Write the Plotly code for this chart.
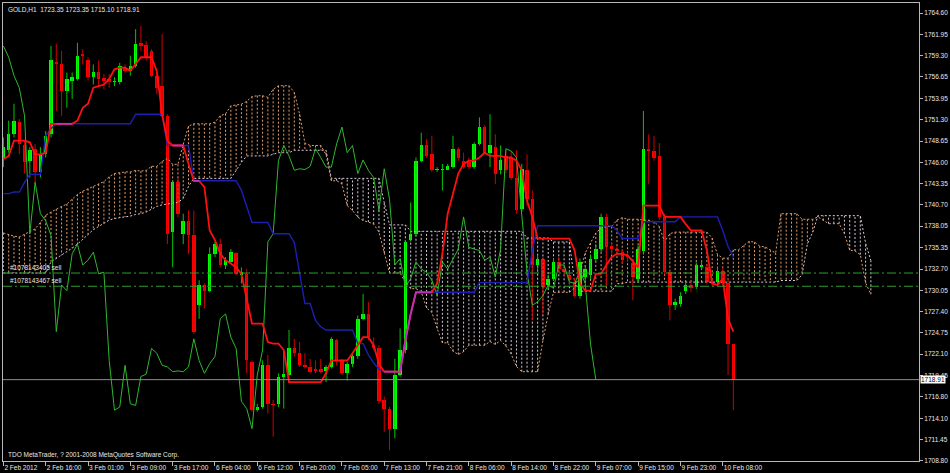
import plotly.graph_objects as go

# ---------------- data ----------------
time_labels = ["2 Feb 2012", "2 Feb 16:00", "3 Feb 01:00", "3 Feb 09:00", "3 Feb 17:00",
               "6 Feb 04:00", "6 Feb 12:00", "6 Feb 20:00", "7 Feb 05:00", "7 Feb 13:00",
               "7 Feb 21:00", "8 Feb 06:00", "8 Feb 14:00", "8 Feb 22:00", "9 Feb 07:00",
               "9 Feb 15:00", "9 Feb 23:00", "10 Feb 08:00"]
label_bars = [0, 8, 16, 24, 32, 40, 48, 56, 64, 72, 80, 88, 96, 104, 112, 120, 128, 136]

opens = [1746.4, 1747.5, 1749.5, 1751.0, 1748.1, 1746.2, 1747.7, 1744.8, 1747.0, 1749.5,
         1758.5, 1758.3, 1754.9, 1756.2, 1756.4, 1759.5, 1758.7, 1756.6, 1757.2, 1756.5,
         1756.4, 1756.0, 1756.0, 1757.8, 1757.4, 1758.0, 1760.9, 1760.6, 1759.9, 1756.8,
         1755.5, 1751.8, 1737.3, 1743.5, 1737.1, 1738.7, 1736.9, 1728.2, 1730.7, 1730.0,
         1734.6, 1735.8, 1733.2, 1733.6, 1734.7, 1731.9, 1732.1, 1721.1, 1715.1, 1715.5,
         1720.7, 1715.9, 1715.9, 1719.3, 1719.5, 1722.8, 1722.2, 1720.7, 1720.5, 1720.2,
         1720.3, 1720.0, 1720.5, 1723.8, 1721.3, 1719.7, 1720.9, 1721.8, 1726.5, 1727.1,
         1723.2, 1722.8, 1716.4, 1715.3, 1712.8, 1719.5, 1722.6, 1736.3, 1737.1, 1746.2,
         1748.1, 1747.0, 1745.0, 1745.0, 1745.1, 1745.4, 1747.7, 1746.2, 1746.0, 1745.4,
         1748.3, 1750.4, 1747.2, 1747.9, 1745.0, 1746.8, 1746.6, 1744.1, 1740.2, 1745.0,
         1741.4, 1733.2, 1734.0, 1730.7, 1731.5, 1733.6, 1732.7, 1731.9, 1731.1, 1729.4,
         1731.7, 1731.9, 1734.0, 1735.2, 1739.2, 1735.6, 1735.2, 1734.8, 1734.4, 1733.4,
         1731.5, 1735.0, 1747.7, 1747.4, 1746.8, 1739.2, 1732.3, 1728.2, 1728.4, 1730.0,
         1730.7, 1730.5, 1733.0, 1733.0, 1731.1, 1731.1, 1732.5, 1730.9, 1723.35]
highs = [1749.1, 1751.2, 1753.3, 1751.4, 1748.7, 1747.9, 1748.3, 1747.9, 1749.9, 1760.5,
         1760.8, 1759.9, 1757.2, 1757.2, 1760.9, 1760.1, 1759.1, 1758.2, 1758.7, 1757.0,
         1757.0, 1756.6, 1758.4, 1758.2, 1759.3, 1762.6, 1763.0, 1761.1, 1760.1, 1757.0,
         1762.0, 1752.0, 1743.7, 1744.1, 1739.6, 1740.0, 1740.0, 1731.3, 1730.9, 1735.4,
         1736.1, 1736.5, 1734.2, 1735.2, 1734.8, 1732.9, 1732.7, 1721.3, 1715.9, 1721.3,
         1722.0, 1716.4, 1719.7, 1722.6, 1725.1, 1724.0, 1723.6, 1722.2, 1721.5, 1721.3,
         1721.5, 1720.7, 1724.2, 1724.0, 1721.5, 1721.1, 1722.2, 1726.9, 1729.6, 1728.6,
         1724.2, 1723.2, 1716.8, 1715.5, 1721.5, 1725.3, 1736.3, 1741.0, 1746.6, 1749.7,
         1748.9, 1749.3, 1745.4, 1745.8, 1745.8, 1749.3, 1747.9, 1747.2, 1746.6, 1748.5,
         1751.6, 1750.6, 1752.0, 1749.5, 1748.1, 1747.5, 1747.3, 1747.5, 1745.8, 1747.0,
         1742.5, 1734.5, 1734.2, 1732.0, 1734.0, 1734.2, 1733.0, 1732.4, 1731.6, 1734.0,
         1733.2, 1734.5, 1735.8, 1739.6, 1739.6, 1736.0, 1735.6, 1735.2, 1734.8, 1733.8,
         1735.6, 1752.4, 1749.5, 1749.3, 1748.4, 1739.6, 1732.6, 1729.0, 1729.8, 1731.0,
         1731.2, 1733.5, 1733.8, 1733.3, 1731.4, 1732.9, 1732.9, 1731.5, 1723.35]
lows = [1745.4, 1747.2, 1749.1, 1747.0, 1744.6, 1744.1, 1743.3, 1744.1, 1746.6, 1749.1,
        1752.4, 1751.8, 1752.8, 1753.9, 1756.2, 1758.2, 1756.2, 1755.7, 1755.5, 1755.1,
        1755.3, 1755.5, 1755.7, 1757.2, 1756.8, 1757.8, 1759.9, 1758.7, 1756.6, 1754.5,
        1751.6, 1735.8, 1732.9, 1739.2, 1735.8, 1734.6, 1724.6, 1726.5, 1727.8, 1729.8,
        1734.2, 1732.9, 1732.7, 1733.4, 1731.9, 1730.9, 1719.7, 1714.9, 1714.9, 1715.3,
        1714.7, 1711.8, 1715.5, 1715.3, 1719.3, 1721.8, 1720.5, 1720.3, 1719.7, 1719.7,
        1719.7, 1718.6, 1720.3, 1720.7, 1719.5, 1718.8, 1720.5, 1721.5, 1726.3, 1723.8,
        1722.6, 1715.9, 1712.4, 1710.1, 1711.6, 1719.3, 1722.2, 1736.1, 1736.9, 1746.0,
        1746.6, 1744.8, 1744.8, 1742.5, 1745.0, 1745.2, 1746.2, 1745.2, 1745.2, 1745.2,
        1748.1, 1747.0, 1745.4, 1743.3, 1744.5, 1744.6, 1743.8, 1739.6, 1739.8, 1740.5,
        1726.3, 1732.5, 1727.0, 1730.2, 1731.2, 1732.3, 1731.8, 1730.8, 1729.2, 1729.0,
        1731.2, 1731.5, 1733.6, 1734.8, 1730.5, 1734.6, 1734.5, 1733.4, 1733.6, 1728.8,
        1731.0, 1734.5, 1743.3, 1746.2, 1738.8, 1732.0, 1726.3, 1727.6, 1728.0, 1729.6,
        1729.8, 1730.2, 1732.6, 1730.8, 1730.5, 1730.8, 1730.5, 1719.5, 1715.10]
closes = [1747.9, 1749.5, 1751.2, 1748.3, 1746.0, 1747.5, 1744.8, 1747.0, 1749.3, 1758.7,
          1758.3, 1754.9, 1756.4, 1756.6, 1759.3, 1759.3, 1756.6, 1757.2, 1756.4, 1756.2,
          1756.0, 1756.2, 1758.0, 1757.4, 1758.0, 1760.7, 1760.5, 1759.1, 1756.8, 1755.3,
          1751.8, 1737.1, 1743.5, 1739.6, 1738.7, 1736.9, 1724.9, 1730.7, 1730.0, 1734.6,
          1735.8, 1733.2, 1733.8, 1734.8, 1732.1, 1732.3, 1721.3, 1715.1, 1715.5, 1720.7,
          1715.9, 1715.7, 1719.3, 1719.6, 1722.8, 1722.2, 1720.7, 1720.5, 1719.9, 1720.0,
          1719.9, 1720.5, 1724.0, 1721.3, 1719.7, 1720.9, 1721.8, 1726.5, 1727.1, 1724.2,
          1722.8, 1716.2, 1715.3, 1712.8, 1719.5, 1722.6, 1736.1, 1737.1, 1746.2, 1748.1,
          1746.8, 1745.0, 1745.2, 1745.1, 1745.5, 1747.7, 1746.6, 1745.4, 1745.4, 1748.3,
          1750.4, 1747.2, 1748.1, 1744.6, 1746.3, 1745.0, 1744.1, 1740.0, 1745.2, 1741.4,
          1733.2, 1734.0, 1730.5, 1731.5, 1733.6, 1732.7, 1732.3, 1731.3, 1729.4, 1733.6,
          1732.7, 1734.0, 1735.2, 1739.2, 1735.4, 1735.2, 1735.0, 1733.8, 1734.2, 1731.7,
          1735.2, 1747.7, 1747.4, 1746.6, 1739.2, 1732.3, 1728.2, 1728.6, 1729.4, 1730.7,
          1730.3, 1733.2, 1733.2, 1731.1, 1730.9, 1732.5, 1730.9, 1723.35, 1718.91]

tenkan = [1746.4, 1746.8, 1748.7, 1748.7, 1748.7, 1748.5, 1747.0, 1747.0, 1747.2, 1750.8,
          1750.8, 1750.8, 1750.8, 1750.8, 1751.2, 1752.8, 1753.3, 1755.3, 1755.5, 1755.7,
          1756.4, 1757.6, 1757.8, 1757.8, 1757.4, 1758.2, 1759.1, 1759.1, 1759.1, 1757.4,
          1752.0, 1748.7, 1748.1, 1748.1, 1748.1, 1745.8, 1743.7, 1743.7, 1742.9, 1737.5,
          1736.3, 1734.6, 1733.8, 1733.4, 1732.9, 1732.1, 1729.0, 1725.9, 1725.9, 1725.9,
          1723.6, 1723.4, 1723.4, 1722.6, 1718.6, 1718.6, 1718.6, 1718.6, 1718.6, 1718.6,
          1718.6, 1719.7, 1721.3, 1721.3, 1721.3, 1721.3, 1722.2, 1723.2, 1724.2, 1724.2,
          1723.2, 1720.9, 1719.9, 1719.9, 1719.9, 1719.9, 1723.8, 1727.1, 1729.8, 1729.8,
          1729.8, 1729.8, 1730.9, 1734.6, 1739.6, 1742.1, 1744.6, 1745.8, 1746.2, 1746.2,
          1746.6, 1747.2, 1746.8, 1746.8, 1746.8, 1746.6, 1746.6, 1746.2, 1745.0, 1741.2,
          1739.2, 1736.5, 1736.5, 1736.5, 1736.5, 1736.5, 1736.5, 1736.5, 1735.0, 1730.9,
          1730.0, 1730.0, 1732.1, 1732.1, 1733.2, 1734.2, 1734.6, 1734.6, 1734.4, 1733.6,
          1732.9, 1740.6, 1740.6, 1740.6, 1740.6, 1739.2, 1739.2, 1739.2, 1739.2, 1738.3,
          1737.5, 1737.5, 1737.5, 1735.0, 1730.9, 1730.7, 1731.5, 1726.5, 1724.9]
kijun = [1742.1, 1742.1, 1742.3, 1742.3, 1743.5, 1744.5, 1744.5, 1744.5, 1749.3, 1750.2,
         1750.8, 1750.8, 1750.8, 1750.8, 1750.8, 1750.8, 1750.8, 1750.8, 1750.8, 1750.8,
         1750.8, 1750.8, 1750.8, 1750.8, 1750.8, 1752.0, 1752.0, 1752.0, 1752.0, 1752.0,
         1752.0, 1748.1, 1748.1, 1748.1, 1748.1, 1748.1, 1743.7, 1743.7, 1743.7, 1743.7,
         1743.7, 1743.7, 1743.7, 1743.7, 1743.7, 1742.5, 1740.4, 1738.5, 1738.5, 1738.5,
         1738.5, 1737.1, 1737.1, 1737.1, 1737.1, 1736.0, 1732.0, 1728.4, 1728.4, 1726.3,
         1725.5, 1725.1, 1725.1, 1725.1, 1725.1, 1725.1, 1725.1, 1723.4, 1723.4, 1722.0,
         1721.0, 1720.2, 1719.9, 1719.9, 1719.9, 1719.9, 1723.8, 1727.1, 1729.8, 1729.8,
         1729.8, 1729.8, 1729.8, 1729.8, 1729.8, 1729.8, 1729.8, 1729.8, 1729.8, 1729.8,
         1731.0, 1731.0, 1731.0, 1731.0, 1731.0, 1731.0, 1731.0, 1731.0, 1731.0, 1731.0,
         1735.0, 1738.1, 1738.1, 1738.1, 1738.1, 1738.1, 1738.1, 1738.1, 1738.1, 1738.1,
         1738.1, 1738.1, 1738.1, 1738.1, 1738.1, 1738.1, 1737.5, 1736.5, 1736.5, 1736.5,
         1736.5, 1738.6, 1738.6, 1738.6, 1738.6, 1738.6, 1738.6, 1738.6, 1739.2, 1739.2,
         1739.2, 1739.2, 1739.2, 1739.2, 1739.2, 1739.2, 1737.5, 1735.5, 1734.2]
span_a = [1737.2, 1737.0, 1736.8, 1736.7, 1737.0, 1737.4, 1737.7, 1738.5, 1739.4, 1739.8,
          1740.2, 1740.5, 1740.8, 1741.4, 1742.0, 1742.4, 1742.7, 1743.0, 1743.3, 1743.6,
          1744.2, 1744.6, 1744.7, 1744.8, 1744.8, 1745.0, 1744.9, 1745.0, 1745.5, 1745.5,
          1746.1, 1746.5, 1745.75, 1745.75, 1748.25, 1750.5, 1750.8, 1750.8, 1750.8, 1750.8,
          1751.0, 1751.8, 1752.05, 1753.05, 1753.15, 1753.25, 1753.6, 1754.2, 1754.3, 1754.3,
          1754.1, 1755.1, 1755.55, 1755.55, 1755.55, 1754.7, 1752.0, 1748.4, 1748.1, 1748.1,
          1748.1, 1746.95, 1743.7, 1743.7, 1743.3, 1740.6, 1740.0, 1739.15, 1738.75, 1738.55,
          1738.3, 1737.3, 1734.7, 1732.2, 1732.2, 1732.2, 1731.05, 1730.25, 1730.25, 1729.85,
          1727.85, 1727.3, 1725.3, 1723.5, 1723.5, 1722.45, 1722.05, 1722.4, 1723.2, 1723.2,
          1723.2, 1723.2, 1723.65, 1723.3, 1723.8, 1723.1, 1722.1, 1720.55, 1719.9, 1719.9,
          1719.9, 1719.9, 1723.8, 1727.1, 1729.8, 1729.8, 1729.8, 1729.8, 1730.35, 1732.2,
          1734.7, 1735.95, 1737.2, 1737.8, 1738.0, 1738.0, 1738.8, 1739.1, 1738.9, 1738.9,
          1738.9, 1738.8, 1738.8, 1738.6, 1738.0, 1736.1, 1737.1, 1737.3, 1737.3, 1737.3,
          1737.3, 1737.3, 1737.3, 1737.3, 1736.55, 1734.5, 1734.05, 1734.05, 1735.1, 1735.1,
          1735.65, 1736.15, 1736.05, 1735.55, 1735.45, 1735.05, 1734.7, 1739.6, 1739.6, 1739.6,
          1739.6, 1738.9, 1738.9, 1738.9, 1739.2, 1738.75, 1738.35, 1738.35, 1738.35, 1737.1,
          1735.05, 1734.95, 1734.5, 1731.0, 1729.55]
span_b = [1732.2, 1732.2, 1732.2, 1732.2, 1732.2, 1732.2, 1732.2, 1732.2, 1732.2, 1733.6,
          1734.0, 1734.4, 1734.8, 1735.3, 1735.8, 1736.4, 1737.0, 1737.6, 1738.0, 1738.4,
          1738.8, 1739.0, 1739.1, 1739.2, 1739.3, 1739.5, 1739.6, 1739.8, 1740.2, 1740.5,
          1740.7, 1740.8, 1740.9, 1741.0, 1741.5, 1743.0, 1744.0, 1744.0, 1744.0, 1744.0,
          1744.0, 1744.0, 1744.0, 1744.0, 1745.0, 1746.0, 1746.8, 1746.8, 1746.8, 1746.8,
          1746.8, 1747.0, 1747.2, 1747.2, 1747.2, 1747.5, 1747.5, 1747.5, 1747.5, 1747.5,
          1747.5, 1747.5, 1744.0, 1744.0, 1744.0, 1744.0, 1744.0, 1744.0, 1744.0, 1744.0,
          1744.0, 1744.0, 1741.0, 1738.2, 1738.2, 1738.2, 1738.2, 1737.4, 1737.4, 1737.4,
          1737.4, 1737.4, 1737.4, 1737.4, 1737.4, 1737.4, 1737.4, 1737.4, 1737.4, 1737.4,
          1737.4, 1737.4, 1737.4, 1737.4, 1737.4, 1737.4, 1737.4, 1737.4, 1737.4, 1736.57,
          1736.57, 1736.57, 1736.57, 1736.57, 1736.07, 1736.07, 1736.07, 1736.07, 1731.08, 1729.94,
          1729.94, 1729.94, 1729.94, 1729.94, 1729.94, 1729.94, 1730.87, 1730.87, 1731.07, 1731.07,
          1731.07, 1731.07, 1731.07, 1731.07, 1731.07, 1731.07, 1731.07, 1731.07, 1731.07, 1731.07,
          1731.07, 1731.07, 1731.07, 1731.07, 1731.07, 1731.07, 1731.07, 1731.07, 1731.07, 1731.07,
          1731.07, 1731.07, 1731.07, 1731.07, 1731.07, 1731.07, 1731.07, 1731.27, 1731.27, 1731.27,
          1731.27, 1731.99, 1735.83, 1737.28, 1739.35, 1739.35, 1739.35, 1739.35, 1739.35, 1739.35,
          1739.35, 1739.35, 1739.35, 1735.95, 1733.75]

price_ticks = [1764.60, 1761.95, 1759.30, 1756.65, 1753.95, 1751.30, 1748.65, 1746.00,
               1743.35, 1740.70, 1738.05, 1735.35, 1732.70, 1730.05, 1727.40, 1724.75,
               1722.10, 1719.45, 1716.80, 1714.10, 1711.45, 1708.80]
order_prices = [1732.20, 1730.55]
order_labels = ["#1078143405 sell", "#1078143467 sell"]
last_price = 1718.91
chikou_shift = 26
title_text = "GOLD,H1  1723.35 1723.35 1715.10 1718.91"
footer_text = "TDO MetaTrader, ? 2001-2008 MetaQuotes Software Corp."

# ---------------- styles ----------------
BG = "#000000"
BULL = "#00FF00"
BEAR = "#FF0000"
BULL_WICK = "#00C800"
BEAR_WICK = "#D00000"
TENKAN_C = "#FF1010"
KIJUN_C = "#1E1EB4"
CHIKOU_C = "#2EB82E"
SANDY = "#E0A070"
THISTLE = "#D8C8D8"
AXIS_C = "#B8B8B8"
TXT_C = "#E8E8E8"
FONT = "Liberation Sans, Arial, sans-serif"
FS = 6.5

n = len(closes)
bars = list(range(n))

fig = go.Figure()

# ---- Kumo cloud: vertical dotted hatch per bar ----
hx_up, hy_up, hx_dn, hy_dn = [], [], [], []
for j, (a, b) in enumerate(zip(span_a, span_b)):
    if a >= b:
        hx_up += [j, j, None]
        hy_up += [a, b, None]
    else:
        hx_dn += [j, j, None]
        hy_dn += [a, b, None]
fig.add_trace(go.Scatter(x=hx_up, y=hy_up, mode="lines",
                         line=dict(color=SANDY, width=1, dash="2px,2px"), hoverinfo="skip"))
fig.add_trace(go.Scatter(x=hx_dn, y=hy_dn, mode="lines",
                         line=dict(color=THISTLE, width=1, dash="2px,2px"), hoverinfo="skip"))
span_x = list(range(len(span_a)))
fig.add_trace(go.Scatter(x=span_x, y=span_a, mode="lines",
                         line=dict(color=SANDY, width=1, dash="2px,2px"), hoverinfo="skip"))
fig.add_trace(go.Scatter(x=span_x, y=span_b, mode="lines",
                         line=dict(color=THISTLE, width=1, dash="2px,2px"), hoverinfo="skip"))

# ---- candles ----
wx_up, wy_up, wx_dn, wy_dn = [], [], [], []
bx_up, bb_up, bh_up, bx_dn, bb_dn, bh_dn = [], [], [], [], [], []
for i in bars:
    o, h, l, c = opens[i], highs[i], lows[i], closes[i]
    body = max(abs(c - o), 0.13)
    if c >= o:
        wx_up += [i, i, None]; wy_up += [l, h, None]
        bx_up.append(i); bb_up.append(min(o, c)); bh_up.append(body)
    else:
        wx_dn += [i, i, None]; wy_dn += [l, h, None]
        bx_dn.append(i); bb_dn.append(min(o, c)); bh_dn.append(body)

fig.add_trace(go.Scatter(x=wx_up, y=wy_up, mode="lines",
                         line=dict(color=BULL_WICK, width=1), hoverinfo="skip"))
fig.add_trace(go.Scatter(x=wx_dn, y=wy_dn, mode="lines",
                         line=dict(color=BEAR_WICK, width=1), hoverinfo="skip"))
fig.add_trace(go.Bar(x=bx_up, y=bh_up, base=bb_up, width=0.66,
                     marker=dict(color=BULL, line=dict(width=0)), hoverinfo="skip"))
fig.add_trace(go.Bar(x=bx_dn, y=bh_dn, base=bb_dn, width=0.66,
                     marker=dict(color=BEAR, line=dict(width=0)), hoverinfo="skip"))

# ---- Chikou span (close shifted back) ----
chikou_x = [i - chikou_shift for i in range(chikou_shift, n)]
fig.add_trace(go.Scatter(x=chikou_x, y=closes[chikou_shift:], mode="lines",
                         line=dict(color=CHIKOU_C, width=1), hoverinfo="skip"))

# ---- Kijun / Tenkan ----
fig.add_trace(go.Scatter(x=bars, y=kijun, mode="lines",
                         line=dict(color=KIJUN_C, width=1.4), hoverinfo="skip"))
fig.add_trace(go.Scatter(x=bars, y=tenkan, mode="lines",
                         line=dict(color=TENKAN_C, width=1.8), hoverinfo="skip"))
overlap = [t if abs(t - k) < 0.05 else None for t, k in zip(tenkan, kijun)]
fig.add_trace(go.Scatter(x=bars, y=overlap, mode="lines",
                         line=dict(color="#C030C0", width=1.8), hoverinfo="skip"))

# ---- order lines and price line ----
shapes = []
for p in order_prices:
    shapes.append(dict(type="line", xref="paper", x0=0, x1=0.9995, yref="y", y0=p, y1=p,
                       line=dict(color="#2F9A2F", width=1, dash="9px,3px,2px,3px")))
shapes.append(dict(type="line", xref="paper", x0=0, x1=1, yref="y", y0=last_price, y1=last_price,
                   line=dict(color="#8C8C8C", width=1)))

annotations = []
for p, lab in zip(order_prices, order_labels):
    annotations.append(dict(xref="paper", x=0.005, yref="y", y=p, text=lab, showarrow=False,
                            xanchor="left", yanchor="bottom", yshift=0,
                            font=dict(family=FONT, size=FS, color=TXT_C)))
annotations.append(dict(xref="paper", x=1, yref="y", y=last_price, text=f"{last_price:.2f}",
                        showarrow=False, xanchor="left", yanchor="middle", xshift=1,
                        bgcolor="#FFFFFF", borderpad=0,
                        font=dict(family=FONT, size=FS, color="#000000")))
annotations.append(dict(xref="paper", x=0.003, yref="paper", y=1, text=title_text,
                        showarrow=False, xanchor="left", yanchor="top", yshift=-1,
                        font=dict(family=FONT, size=FS, color=TXT_C)))
annotations.append(dict(xref="paper", x=0.003, yref="paper", y=0, text=footer_text,
                        showarrow=False, xanchor="left", yanchor="bottom", yshift=0,
                        font=dict(family=FONT, size=FS, color=TXT_C)))

fig.update_layout(
    width=950, height=473,
    margin=dict(l=2, r=25, t=2, b=12),
    paper_bgcolor=BG, plot_bgcolor=BG,
    showlegend=False, barmode="overlay", bargap=0,
    hovermode=False,
    shapes=shapes, annotations=annotations,
    font=dict(family=FONT, size=FS, color=TXT_C),
)
fig.update_xaxes(
    range=[-0.075, 173.1], showgrid=False, zeroline=False,
    showline=True, linecolor=AXIS_C, linewidth=1, mirror=True,
    tickmode="array", tickvals=label_bars, ticktext=time_labels,
    ticks="outside", ticklen=4, tickcolor=AXIS_C, tickangle=0,
    ticklabelposition="outside right",
    tickfont=dict(family=FONT, size=FS, color=TXT_C),
)
fig.update_yaxes(
    range=[1708.77, 1765.86], side="right", showgrid=False, zeroline=False,
    showline=True, linecolor=AXIS_C, linewidth=1, mirror=True,
    tickmode="array", tickvals=price_ticks, ticktext=[f"{v:.2f}" for v in price_ticks],
    ticks="outside", ticklen=3, tickcolor=AXIS_C,
    tickfont=dict(family=FONT, size=FS, color=TXT_C),
)

fig.write_html("out.html",
               config={"displayModeBar": False, "staticPlot": True},
               post_script="document.body.style.margin='0';document.body.style.background='#000';")
